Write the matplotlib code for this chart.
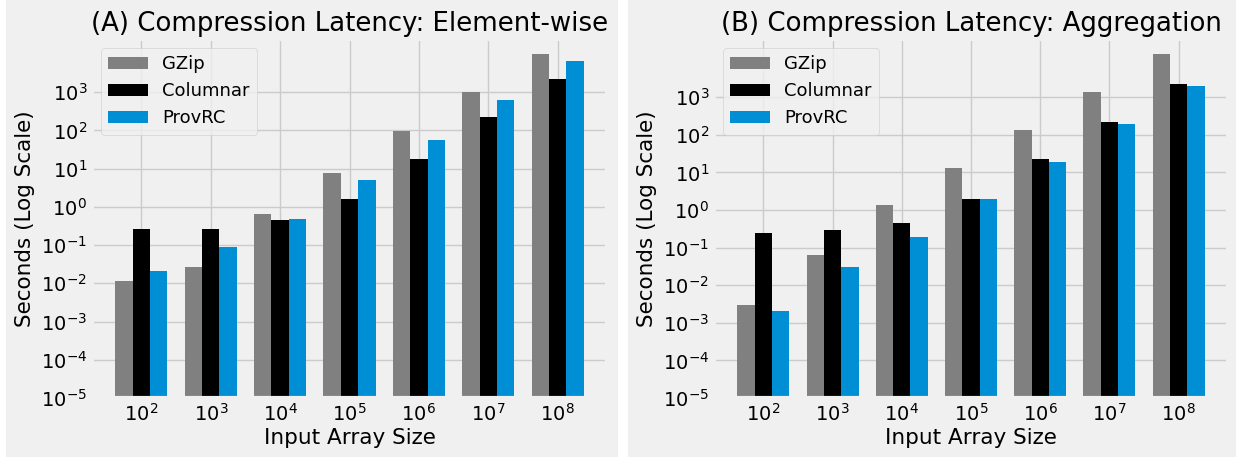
import numpy as np
import matplotlib
matplotlib.use("Agg")
import matplotlib.pyplot as plt
from matplotlib.patches import Rectangle

plt.style.use("fivethirtyeight")

sizes = ["$10^{2}$", "$10^{3}$", "$10^{4}$", "$10^{5}$", "$10^{6}$", "$10^{7}$", "$10^{8}$"]
series_names = ["GZip", "Columnar", "ProvRC"]
colors = ["#808080", "#000000", "#008fd5"]

# (A) Element-wise
a_gzip = [0.0115, 0.027, 0.66, 7.9, 98, 1000, 10000]
a_columnar = [0.26, 0.26, 0.45, 1.62, 17.4, 219, 2200]
a_provrc = [0.021, 0.087, 0.47, 5.0, 56, 640, 6400]

# (B) Aggregation
b_gzip = [0.0029, 0.064, 1.37, 13.5, 132, 1380, 14500]
b_columnar = [0.245, 0.30, 0.44, 1.94, 22.4, 219, 2290]
b_provrc = [0.0021, 0.030, 0.195, 1.94, 19, 199, 2040]

yticks = [1e-5, 1e-4, 1e-3, 1e-2, 1e-1, 1e0, 1e1, 1e2, 1e3]

fig = plt.figure(figsize=(12.36, 4.58), dpi=100, facecolor="white")
fig.patches.append(Rectangle((6/1236, 1/458), 612/1236, 457/458, transform=fig.transFigure,
                             facecolor="#f0f0f0", edgecolor="none", zorder=-10))
fig.patches.append(Rectangle((628/1236, 1/458), 608/1236, 457/458, transform=fig.transFigure,
                             facecolor="#f0f0f0", edgecolor="none", zorder=-10))

bottom = 1 - 398/458
height = (398 - 39)/458
axA = fig.add_axes([92/1236, bottom, (607-92)/1236, height])
axB = fig.add_axes([714/1236, bottom, (1228-714)/1236, height])

panels = [
    (axA, "(A) Compression Latency: Element-wise", [a_gzip, a_columnar, a_provrc], 10**4.39),
    (axB, "(B) Compression Latency: Aggregation", [b_gzip, b_columnar, b_provrc], 10**4.55),
]

x = np.arange(len(sizes))
w = 0.25
for ax, title, data, top in panels:
    for i, (name, vals, c) in enumerate(zip(series_names, data, colors)):
        ax.bar(x + (i - 1) * w, vals, w, label=name, color=c, log=True)
    ax.set_yscale("log")
    ax.set_ylim(1e-5, top)
    ax.set_yticks(yticks)
    ax.minorticks_off()
    ax.set_xticks(x)
    ax.set_xticklabels(sizes)
    ax.tick_params(axis="both", labelsize=14)
    ax.set_title(title, fontsize=18.7, pad=6)
    ax.set_xlabel("Input Array Size", fontsize=15.5, labelpad=2)
    ax.set_ylabel("Seconds (Log Scale)", fontsize=15.5)
    ax.legend(loc="upper left", fontsize=13, handlelength=2.2)
    ax.set_facecolor("#f0f0f0")

fig.savefig("out.png", dpi=100, facecolor="white")
